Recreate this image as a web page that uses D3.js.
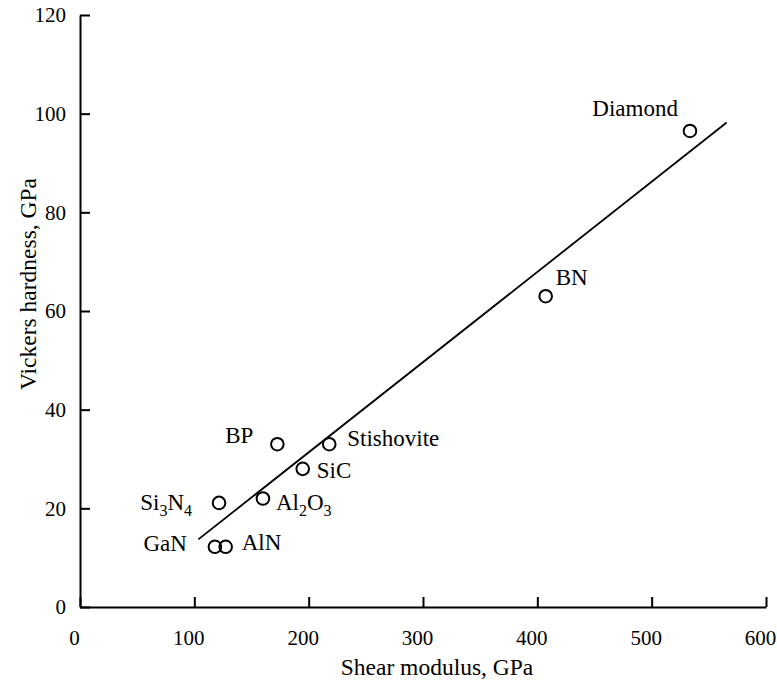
<!DOCTYPE html>
<html>
<head>
<meta charset="utf-8">
<script src="https://cdn.jsdelivr.net/npm/d3@7"></script>
<style>
  body { margin: 0; background: #fff; }
  text { font-family: 'Liberation Serif', 'DejaVu Serif', Tinos, 'Times New Roman', Times, serif; }
</style>
</head>
<body>
<svg id="chart" width="777" height="684"></svg>
<script>
// materials, shear modulus (GPa) and Vickers hardness (GPa)
var materials = ["Diamond", "BN", "BP", "Stishovite", "SiC", "Si3N4", "Al2O3", "GaN", "AlN"];
var shearModulus = [533.5, 407.3, 172.6, 218, 194.8, 121.6, 160, 118, 127.4];
var hardness = [96.5, 63.0, 33.0, 33.0, 28.0, 21.1, 22.0, 12.2, 12.2];

// fitted line endpoints
var fitX = [103.5, 565.6];
var fitY = [13.7, 98.2];

var xTicks = [0, 100, 200, 300, 400, 500, 600];
var yTicks = [0, 20, 40, 60, 80, 100, 120];

// label placement relative to each point (pixels)
var labelPos = {
  "Diamond":    { dx: -12, dy: -15, anchor: "end" },
  "BN":         { dx: 10,  dy: -11, anchor: "start" },
  "BP":         { dx: -24, dy: -1,  anchor: "end" },
  "Stishovite": { dx: 18,  dy: 2,   anchor: "start" },
  "SiC":        { dx: 14,  dy: 9,   anchor: "start" },
  "Si3N4":      { dx: -27, dy: 7,   anchor: "end" },
  "Al2O3":      { dx: 13,  dy: 12,  anchor: "start" },
  "GaN":        { dx: -28, dy: 4,   anchor: "end" },
  "AlN":        { dx: 16,  dy: 3,   anchor: "start" }
};

var svg = d3.select("#chart");

var x = d3.scaleLinear().domain([0, 600]).range([80, 766]);
var y = d3.scaleLinear().domain([0, 120]).range([607, 15]);

var xAxis = svg.append("g")
  .attr("transform", "translate(0," + y(0) + ")")
  .call(d3.axisBottom(x).tickValues(xTicks).tickFormat(d3.format("d"))
    .tickSizeInner(-10).tickSizeOuter(0).tickPadding(23));

var yAxis = svg.append("g")
  .attr("transform", "translate(" + x(0) + ",0)")
  .call(d3.axisLeft(y).tickValues(yTicks).tickFormat(d3.format("d"))
    .tickSizeInner(-10).tickSizeOuter(0).tickPadding(14));

[xAxis, yAxis].forEach(function (g) {
  g.attr("font-family", null).attr("font-size", null);
  g.select(".domain").attr("stroke", "#000").attr("stroke-width", 2);
  g.selectAll(".tick line").attr("stroke", "#000").attr("stroke-width", 2);
  g.selectAll(".tick text").attr("fill", "#000").style("font-size", "21px");
});
xAxis.selectAll(".tick text").attr("dx", -6);

// fit line
svg.append("line")
  .attr("x1", x(fitX[0])).attr("y1", y(fitY[0]))
  .attr("x2", x(fitX[1])).attr("y2", y(fitY[1]))
  .attr("stroke", "#000")
  .attr("stroke-width", 1.8);

var points = materials.map(function (m, i) {
  return { name: m, g: shearModulus[i], h: hardness[i] };
});

svg.append("g").selectAll("circle")
  .data(points)
  .enter().append("circle")
  .attr("cx", function (d) { return x(d.g); })
  .attr("cy", function (d) { return y(d.h); })
  .attr("r", 6.3)
  .attr("fill", "none")
  .attr("stroke", "#000")
  .attr("stroke-width", 2);

var labels = svg.append("g").selectAll("text")
  .data(points)
  .enter().append("text")
  .attr("x", function (d) { return x(d.g) + labelPos[d.name].dx; })
  .attr("y", function (d) { return y(d.h) + labelPos[d.name].dy; })
  .attr("text-anchor", function (d) { return labelPos[d.name].anchor; })
  .style("font-size", "23px")
  .attr("fill", "#000");

// chemical formulas with subscript digits
labels.each(function (d) {
  var t = d3.select(this);
  var parts = d.name.match(/[A-Za-z]+|\d+/g);
  var sub = false;
  parts.forEach(function (p) {
    var isNum = /^\d+$/.test(p);
    var ts = t.append("tspan").text(p);
    if (isNum && !sub) { ts.attr("dy", 6).style("font-size", "16px"); sub = true; }
    else if (isNum) { ts.style("font-size", "16px"); }
    else if (sub) { ts.attr("dy", -6); sub = false; }
  });
});

svg.append("text")
  .attr("x", 437)
  .attr("y", 675)
  .attr("text-anchor", "middle")
  .style("font-size", "23.5px")
  .text("Shear modulus, GPa");

svg.append("text")
  .attr("transform", "translate(36,284) rotate(-90)")
  .attr("text-anchor", "middle")
  .style("font-size", "23.5px")
  .text("Vickers hardness, GPa");
</script>
</body>
</html>
